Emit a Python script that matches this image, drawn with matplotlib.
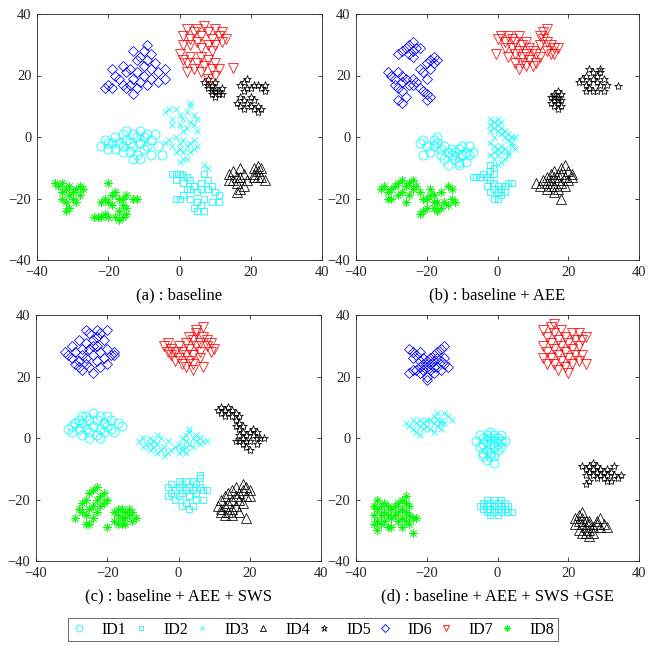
import numpy as np
import matplotlib
matplotlib.use("Agg")
import matplotlib.pyplot as plt
from matplotlib.lines import Line2D

plt.rcParams['font.family'] = ['Liberation Serif', 'DejaVu Serif']

# ---------------- data (x, y) ----------------
# panel (a) baseline
a_id1 = [(-22,-3),(-21,-1),(-20,-4),(-19,-2),(-18,0),(-18,-4),(-17,-2),(-16,1),(-16,-3),(-15,2),(-15,-1),(-14,-5),(-14,-2),(-13,1),(-13,-3),(-12,0),(-12,-6),(-11,-2),(-11,2),(-10,-4),(-10,0),(-9,1),(-9,-3),(-8,-6),(-8,-1),(-7,1),(-6,-3),(-5,-6),(-13,-7),(-16,-5),(-11,-7),(-20,-2)]
a_id2 = [(-2,-12),(-1,-12),(0,-12),(1,-12.5),(2,-13),(3,-14),(-1,-14),(1,-15),(2,-17),(4,-16),(5,-18),(6,-15),(7,-12),(8,-14),(8,-17),(9,-16),(10,-18),(11,-19),(11,-21),(9,-21),(7,-20),(6,-22),(5,-24),(4,-23),(7,-24),(3,-20),(0,-20),(-1,-20),(1,-19),(5,-21),(6,-17),(3,-17)]
a_id3 = [(-4,8),(-3,9),(-2,6),(-1,9),(0,7),(0,4),(1,6),(2,8),(2,3),(3,5),(3,10),(4,4),(4,7),(5,2),(5,6),(-2,4),(1,2),(3,11),
         (-4,-2),(-3,-1),(-2,-3),(-1,0),(0,-2),(0,-4),(1,-1),(1,-5),(2,-3),(2,-7),(3,-2),(3,-5),(4,-1),(4,-4),(5,-3),(0,-8),(1,-7),(-1,-5),(7,-9),(8,-10)]
a_id4 = [(14,-12),(15,-11),(16,-13),(17,-10),(15,-14),(16,-15),(17,-13),(18,-12),(17,-17),(16,-18),(18,-16),(19,-14),(14,-14),
         (21,-10),(22,-11),(22,-9.5),(23,-10),(21,-12),(23,-13),(22,-13),(24,-14),(21,-13)]
a_id5 = [(7,18),(8,19),(9,17),(10,18),(8,16),(9,15),(10,16),(11,15),(11,14),(10,13),(12,14),(9,14),(8,17),(10,15),(12,16),
         (17,17),(18,18),(19,19),(20,16),(21,17),(22,17),(23,16),(24,15),(19,16),(18,15),(17,13),(18,12),(16,11),(17,10),(18,9),(19,11),(20,10),(21,9),(22,8),(23,9),(20,13),(21,12),(22,10),(24,17)]
a_id6 = [(-9,30),(-10,28),(-8,27),(-11,26),(-9,25),(-12,25),(-10,23),(-8,22),(-7,24),(-6,21),(-4,22),(-4,19),(-6,18),(-8,19),(-10,20),(-11,18),(-13,19),(-14,22),(-15,21),(-16,23),(-17,19),(-16,17),(-18,20),(-19,22),(-20,17),(-21,16),(-19,16),(-14,17),(-12,16),(-13,14),(-15,16),(-9,17),(-12,21),(-13,28)]
a_id7 = [(1,33),(2,35),(3,32),(4,34),(5,31),(5,35),(6,33),(7,36),(8,34),(9,32),(10,35),(11,33),(12,31),(12,34),(13,32),(8,30),(6,29),(3,30),(1,30),(9,28),(10,30),
         (1,25),(0,27),(2,24),(3,26),(4,22),(5,24),(6,26),(6,21),(7,23),(8,25),(9,22),(10,24),(10,20),(11,22),(8,19),(2,21),(15,22.5)]
a_id8 = [(-35,-15),(-34,-16),(-33,-15),(-32,-17),(-33,-18),(-31,-16),(-30,-18),(-29,-17),(-28,-16),(-27,-17),(-30,-20),(-31,-19),(-32,-21),(-33,-20),(-29,-21),(-28,-19),(-31,-23),(-32,-24),
         (-20,-15),(-19,-19),(-18,-18),(-17,-20),(-20,-21),(-19,-22),(-16,-20),(-15,-19),(-13,-20),(-12,-20),(-16,-22),(-15,-23),(-17,-24),(-16,-26),(-17,-27),(-15,-25),(-18,-26),(-20,-26),(-22,-26),(-24,-26),(-23,-26),(-21,-25),(-21,-20),(-22,-21)]

# panel (b) baseline + AEE
b_id1 = [(-22,-2),(-21,-1),(-20,-3),(-19,-5),(-21,-6),(-18,-1),(-18,-3),(-17,-2),(-17,0),(-16,-4),(-16,-6),(-15,-3),(-15,-7),(-14,-5),(-14,-9),(-13,-6),(-13,-4),(-12,-7),(-12,-5),(-11,-8),(-11,-4),(-10,-6),(-10,-3),(-9,-5),(-9,-8),(-8,-3),(-8,-6),(-7,-5),(-11,-9)]
b_id2 = [(-7,-13),(-6,-13),(-5,-13),(-4,-12),(-3,-13),(-2,-11),(-1,-10),(-2,-14),(-1,-12),(-2,-9),(-3,-16),(-2,-18),(-1,-17),(0,-18),(0,-16),(1,-19),(1,-17),(2,-18),(0,-20),(-1,-20),(3,-15),(4,-15),(2,-16),(-1,-15)]
b_id3 = [(-2,6),(-2,4),(-1,3),(-1,5),(0,2),(0,4),(1,3),(1,1),(2,2),(2,0),(3,1),(4,0),(5,0),(-2,2),(0,6),(3,-1),(-1,0),(1,5),
         (-2,-2),(-1,-3),(0,-4),(1,-3),(2,-4),(3,-5),(4,-3),(5,-4),(-2,-6),(-1,-7),(0,-6),(1,-8),(2,-7),(3,-6),(-1,-5),(4,-2),(0,-9),(1,-5)]
b_id4 = [(11,-15),(12,-16),(13,-14),(14,-13),(14,-15),(15,-12),(15,-14),(16,-11),(16,-13),(16,-16),(17,-12),(17,-14),(17,-17),(18,-10),(18,-12),(18,-15),(19,-9),(19,-13),(19,-16),(20,-11),(20,-14),(21,-12),(14,-17),(16,-18),(18,-20),(15,-16),(21,-13)]
b_id5 = [(15,13),(16,14),(17,15),(16,12),(17,13),(18,12),(15,11),(16,10),(17,11),(18,10),(17,9),(16,13),(17,12),(18,14),
         (23,18),(24,19),(25,17),(26,18),(25,20),(27,21),(27,19),(28,20),(29,21),(28,18),(29,17),(30,19),(26,16),(27,15),(28,15),(30,15),(31,17),(25,15),(26,22),(29,22),(34,16.5)]
b_id6 = [(-25,30),(-24,31),(-23,29),(-24,28),(-25,27),(-26,29),(-27,28),(-28,27),(-24,26),(-22,29),(-31,21),(-30,20),(-29,19),(-28,21),(-27,20),(-27,18),(-26,19),(-25,17),(-24,19),(-24,17),(-28,16),(-27,15),(-29,17),(-26,13),(-27,11),(-28,12),(-23,18),(-22,16),(-20,14),(-20,12),(-19,13),(-21,15),(-19,25),(-18,26),(-20,24),(-19,22),(-21,21),(-20,19),(-22,22),(-18,24),(-17,25)]
b_id7 = [(0,32),(1,33),(2,31),(3,33),(4,32),(5,31),(6,33),(7,30),(8,31),(4,29),(5,27),(6,28),(7,26),(8,27),(9,25),(10,28),(9,29),(11,27),(12,26),(12,30),(11,24),(10,23),(8,23),(7,24),(6,22),(5,24),(12,33),(13,34),(14,35),(13,32),(14,31),(15,30),(16,29),(17,29),(15,27),(16,27),(14,28),(-0.4,27),(3,26),(2,29)]
b_id8 = [(-33,-17),(-32,-16),(-31,-18),(-30,-17),(-29,-16),(-28,-15),(-27,-14),(-26,-16),(-27,-18),(-28,-19),(-30,-20),(-31,-20),(-25,-15),(-24,-14),(-24,-17),(-23,-16),(-22,-18),(-25,-19),(-26,-21),(-21,-20),(-20,-20),(-19,-19),(-18,-19),(-17,-21),(-18,-23),(-17,-24),(-16,-23),(-15,-21),(-14,-22),(-13,-20),(-13,-17),(-12,-21),(-14,-16),(-20,-23),(-21,-24),(-22,-25),(-18,-21),(-19,-17),(-16,-18)]

# panel (c) baseline + AEE + SWS
c_id1 = [(-31,3),(-30,4),(-30,2),(-29,5),(-28,6),(-28,3),(-27,1),(-27,5),(-26,7),(-26,3),(-25,6),(-25,2),(-24,8),(-24,4),(-23,1),(-23,6),(-22,3),(-22,7),(-21,5),(-21,2),(-20,4),(-20,7),(-19,3),(-19,6),(-18,2),(-17,5),(-16,4),(-22,0),(-27,7),(-25,0)]
c_id2 = [(-3,-16),(-2,-15),(-1,-17),(0,-14),(0,-16),(1,-18),(1,-15),(2,-17),(2,-14),(3,-16),(3,-19),(4,-17),(4,-14),(5,-15),(5,-18),(6,-16),(6,-13),(7,-17),(7,-20),(8,-17),(-2,-18),(-1,-20),(0,-19),(1,-22),(2,-21),(3,-23),(4,-22),(5,-20),(-3,-19),(6,-12)]
c_id3 = [(-11,-1),(-10,-3),(-9,-2),(-8,0),(-8,-4),(-7,-1),(-7,-3),(-6,1),(-6,-2),(-5,-4),(-5,0),(-4,-3),(-4,-6),(-3,-1),(-3,-5),(-2,-4),(-6,-5),(-8,-2),(-10,0),(-1,-3),
         (0,-2),(1,0),(1,-3),(2,1),(2,-1),(3,2),(3,-2),(4,0),(4,-3),(5,1),(5,-1),(6,-2),(7,-1),(8,-1),(0,-5),(1,-4),(2,-5),(3,3),(6,0),(2,-3)]
c_id4 = [(11,-22),(12,-20),(12,-24),(13,-19),(13,-22),(13,-25),(14,-18),(14,-21),(14,-24),(15,-17),(15,-20),(15,-23),(16,-19),(16,-16),(16,-22),(17,-18),(17,-20),(17,-24),(18,-15),(18,-17),(18,-21),(19,-16),(19,-19),(20,-17),(19,-26),(20,-19),(15,-25),(12,-23)]
c_id5 = [(11,9),(12,10),(12,8),(13,9),(14,8),(14,10),(15,9),(15,7),(16,8),(16,6),(17,7),(13,7),(17,5),(16,4),(17,3),(18,4),
         (17,1),(18,2),(18,0),(19,-1),(19,1),(20,2),(20,-1),(21,1),(21,3),(22,0),(22,2),(23,0),(24,0),(18,-2),(17,-1),(19,-3),(20,-4),(22,-2),(16,-1)]
c_id6 = [(-32,28),(-31,27),(-30,26),(-30,30),(-29,28),(-29,24),(-28,32),(-28,25),(-28,23),(-27,29),(-27,27),(-27,22),(-26,31),(-26,26),(-26,24),(-25,34),(-25,29),(-25,23),(-24,32),(-24,27),(-24,21),(-23,35),(-23,30),(-23,25),(-22,34),(-22,28),(-22,23),(-21,32),(-21,26),(-20,35),(-20,29),(-20,24),(-19,27),(-18,27),(-18,28),(-24,30),(-23,33),(-26,35)]
c_id7 = [(-4,30),(-3,28),(-3,31),(-2,27),(-2,29),(-1,25),(-1,28),(0,30),(0,26),(1,24),(1,28),(2,23),(2,27),(2,31),(3,25),(3,29),(3,33),(4,24),(4,27),(4,32),(5,30),(5,34),(5,35),(6,31),(6,28),(7,33),(7,36),(8,30),(8,32),(9,31),(9,28),(10,29),(6,26),(7,23),(4,22)]
c_id8 = [(-29,-26),(-28,-23),(-27,-21),(-26,-20),(-25,-18),(-24,-17),(-23,-16),(-27,-24),(-26,-25),(-25,-23),(-24,-22),(-23,-20),(-22,-19),(-22,-22),(-21,-21),(-21,-18),(-20,-20),(-24,-26),(-25,-28),(-26,-28),(-23,-24),(-20,-29),
         (-18,-24),(-18,-27),(-17,-23),(-17,-25),(-16,-23),(-16,-26),(-16,-28),(-15,-24),(-15,-26),(-14,-23),(-14,-25),(-13,-24),(-13,-27),(-12,-26),(-17,-28),(-15,-28)]

# panel (d) baseline + AEE + SWS + GSE
d_id1 = [(-6,-1),(-5,1),(-5,-3),(-4,0),(-4,-2),(-4,-5),(-3,1),(-3,-1),(-3,-4),(-3,-7),(-2,0),(-2,-2),(-2,-5),(-1,1),(-1,-1),(-1,-3),(-1,-6),(0,0),(0,-2),(0,-4),(1,1),(1,-1),(1,-3),(2,-1),(-2,-6),(-4,-6),(-1,-8),(-2,2)]
d_id2 = [(-5,-22),(-4,-21),(-4,-23),(-3,-20),(-3,-22),(-3,-24),(-2,-21),(-2,-23),(-1,-20),(-1,-22),(-1,-24),(0,-21),(0,-23),(1,-20),(1,-22),(1,-24),(2,-23),(3,-22),(3,-24),(4,-24),(-2,-25),(0,-25),(2,-21)]
d_id3 = [(-26,5),(-25,4),(-24,6),(-24,3),(-23,5),(-23,2),(-22,4),(-22,1),(-21,5),(-21,3),(-20,4),(-19,3),(-19,6),(-18,5),(-18,7),(-17,4),(-17,8),(-16,6),(-16,3),(-15,5),(-14,7),(-13,6),(-15,8),(-18,2),(-20,6),(-17,6),(-16,5),(-22,6)]
d_id4 = [(22,-26),(22,-28),(23,-25),(23,-27),(23,-30),(24,-26),(24,-28),(24,-31),(25,-27),(25,-29),(26,-28),(26,-30),(26,-27),(27,-29),(27,-31),(28,-28),(28,-27),(29,-29),(30,-28),(31,-29),(26,-32),(25,-31),(24,-24),(29,-26)]
d_id5 = [(24,-9),(25,-10),(25,-12),(26,-9),(26,-11),(26,-14),(27,-10),(27,-12),(27,-8),(28,-11),(28,-13),(29,-10),(29,-12),(30,-11),(30,-13),(31,-10),(31,-12),(32,-11),(32,-14),(33,-12),(33,-9),(34,-13),(35,-12),(25,-15),(28,-9),(31,-14)]
d_id6 = [(-25,29),(-24,28),(-24,26),(-23,27),(-23,22),(-22,25),(-22,23),(-22,21),(-21,26),(-21,24),(-21,22),(-20,25),(-20,23),(-20,20),(-19,24),(-19,22),(-19,26),(-18,27),(-18,25),(-18,23),(-18,21),(-17,28),(-17,26),(-17,23),(-16,29),(-16,25),(-16,22),(-15,30),(-15,24),(-14,23),(-25,21),(-24,22),(-20,19),(-22,28),(-15,26)]
d_id7 = [(13,35),(13,30),(13,26),(14,33),(14,28),(15,36),(15,31),(15,26),(16,34),(16,29),(16,24),(17,32),(17,27),(17,22),(18,35),(18,30),(18,25),(19,33),(19,28),(19,23),(20,31),(20,26),(20,21),(21,34),(21,29),(21,24),(22,32),(22,27),(23,34),(23,30),(23,25),(24,32),(24,27),(25,24),(25,33),(14,24),(16,37)]
d_id8 = [(-35,-22),(-35,-25),(-35,-28),(-34,-20),(-34,-23),(-34,-27),(-34,-30),(-33,-22),(-33,-25),(-33,-28),(-32,-21),(-32,-24),(-32,-27),(-31,-22),(-31,-25),(-31,-29),(-30,-23),(-30,-26),(-29,-22),(-29,-25),
         (-28,-21),(-28,-24),(-28,-27),(-27,-20),(-27,-23),(-27,-26),(-27,-29),(-26,-21),(-26,-24),(-26,-27),(-26,-19),(-25,-22),(-25,-25),(-25,-28),(-24,-26),(-24,-31),(-23,-26),(-30,-29)]

labels = ['ID1', 'ID2', 'ID3', 'ID4', 'ID5', 'ID6', 'ID7', 'ID8']
captions = ['(a) : baseline', '(b) : baseline + AEE',
            '(c) : baseline + AEE + SWS', '(d) : baseline + AEE + SWS +GSE']
ticks = [-40, -20, 0, 20, 40]

panels = [
    [a_id1, a_id2, a_id3, a_id4, a_id5, a_id6, a_id7, a_id8],
    [b_id1, b_id2, b_id3, b_id4, b_id5, b_id6, b_id7, b_id8],
    [c_id1, c_id2, c_id3, c_id4, c_id5, c_id6, c_id7, c_id8],
    [d_id1, d_id2, d_id3, d_id4, d_id5, d_id6, d_id7, d_id8],
]

# ---------------- styles ----------------
styles = [
    dict(marker='o', color='#00ffff', ms=6.5),
    dict(marker='s', color='#00ffff', ms=4.6),
    dict(marker='x', color='#00ffff', ms=4.5),
    dict(marker='^', color='black', ms=6.5),
    dict(marker='*', color='black', ms=6.0),
    dict(marker='D', color='#0000ff', ms=5.0),
    dict(marker='v', color='#ff0000', ms=6.5),
    dict(marker=(8, 2, 0), color='#00ff00', ms=6.0),
]

fig = plt.figure(figsize=(6.5, 6.46), dpi=100)
W, H = 650.0, 646.0
rects = [(37, 14, 285, 246), (356, 14, 283, 246), (36, 315, 285, 246), (356, 315, 283, 246)]

axes = []
for k, (px, py, pw, ph) in enumerate(rects):
    ax = fig.add_axes([px / W, 1 - (py + ph) / H, pw / W, ph / H])
    for pts, st in zip(panels[k], styles):
        arr = np.array(pts, dtype=float)
        ax.plot(arr[:, 0], arr[:, 1], linestyle='none', marker=st['marker'],
                markersize=st['ms'], markerfacecolor='none',
                markeredgecolor=st['color'], markeredgewidth=0.55, color=st['color'])
    ax.set_xlim(-40, 40)
    ax.set_ylim(-40, 40)
    ax.set_xticks(ticks)
    ax.set_yticks(ticks)
    ax.tick_params(direction='in', length=3, width=0.6, top=True, right=True,
                   labelsize=10.5, colors='#262626', pad=4)
    for sp in ax.spines.values():
        sp.set_color('#262626')
        sp.set_linewidth(0.6)
    cx = (px + pw / 2) / W
    cy = 1 - (py + ph + 35) / H
    fig.text(cx, cy, captions[k], ha='center', va='center', fontsize=12, color='black')
    axes.append(ax)

handles = []
for st, lab in zip(styles, labels):
    handles.append(Line2D([], [], linestyle='none', marker=st['marker'],
                          markersize=st['ms'] * 0.75, markerfacecolor='none',
                          markeredgecolor=st['color'], markeredgewidth=0.6, label=lab))
leg = fig.legend(handles=handles, loc='center', bbox_to_anchor=(313 / W, 1 - 629.5 / H),
                 ncol=8, frameon=True, fancybox=False, fontsize=11.5, handlelength=1.0,
                 handletextpad=0.9, columnspacing=0.38, borderpad=0.2, borderaxespad=0)
leg.get_frame().set_edgecolor('#262626')
leg.get_frame().set_linewidth(0.6)

fig.savefig('out.png', dpi=100)
